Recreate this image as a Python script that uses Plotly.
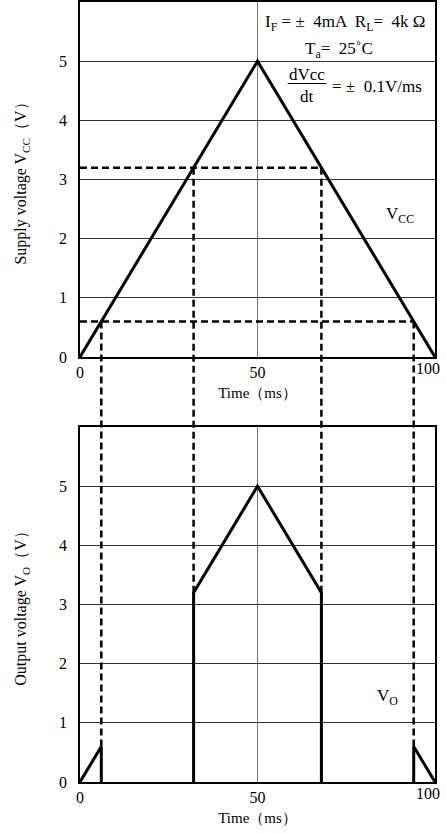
import plotly.graph_objects as go
from plotly.subplots import make_subplots

# ---- data ----
vcc_t = [0, 50, 100]
vcc_v = [0, 5, 0]
thr_high = 3.2
thr_low = 0.6
t_high = [32, 68]
t_low = [6, 94]
vo_t1 = [0, 6, 6]
vo_v1 = [0, 0.6, 0]
vo_t2 = [32, 32, 50, 68, 68]
vo_v2 = [0, 3.2, 5, 3.2, 0]
vo_t3 = [94, 94, 100]
vo_v3 = [0, 0.6, 0]
y_ticks = [0, 1, 2, 3, 4, 5]
x_ticks_main = [0, 50]
x_ticks_end = [100]
x_range = [0, 100]
y_range = [0, 6]

FONT = "Liberation Serif"
BLACK = "black"
DASH = "7px,4px"

top_dom = [0.5449, 1.0]
bot_dom = [0.0, 0.4551]

fig = make_subplots(rows=2, cols=1)

# top: Vcc triangle
fig.add_trace(go.Scatter(x=vcc_t, y=vcc_v, mode="lines",
                         line=dict(color=BLACK, width=3)), row=1, col=1)
# horizontal dashed thresholds in top plot
fig.add_trace(go.Scatter(x=[0, t_high[1]], y=[thr_high, thr_high], mode="lines",
                         line=dict(color=BLACK, width=2.5, dash=DASH)), row=1, col=1)
fig.add_trace(go.Scatter(x=[0, t_low[1]], y=[thr_low, thr_low], mode="lines",
                         line=dict(color=BLACK, width=2.5, dash=DASH)), row=1, col=1)

# bottom: Vo
for xs, ys in [(vo_t1, vo_v1), (vo_t2, vo_v2), (vo_t3, vo_v3)]:
    fig.add_trace(go.Scatter(x=xs, y=ys, mode="lines",
                             line=dict(color=BLACK, width=3)), row=2, col=1)

# invisible helper traces that register the overlay axes carrying the "100" label
fig.add_trace(go.Scatter(x=vcc_t, y=vcc_v, mode="lines", opacity=0,
                         hoverinfo="skip", xaxis="x3", yaxis="y"))
fig.add_trace(go.Scatter(x=vo_t2, y=vo_v2, mode="lines", opacity=0,
                         hoverinfo="skip", xaxis="x4", yaxis="y2"))


def to_paper_y(v, dom):
    return dom[0] + (v - y_range[0]) / (y_range[1] - y_range[0]) * (dom[1] - dom[0])


def to_paper_x(v):
    return (v - x_range[0]) / (x_range[1] - x_range[0])


shapes = []
for t in t_high:
    shapes.append(dict(type="line", xref="paper", yref="paper",
                       x0=to_paper_x(t), x1=to_paper_x(t),
                       y0=to_paper_y(thr_high, top_dom), y1=to_paper_y(thr_high, bot_dom),
                       line=dict(color=BLACK, width=2.5, dash=DASH), layer="above"))
for t in t_low:
    shapes.append(dict(type="line", xref="paper", yref="paper",
                       x0=to_paper_x(t), x1=to_paper_x(t),
                       y0=to_paper_y(thr_low, top_dom), y1=to_paper_y(thr_low, bot_dom),
                       line=dict(color=BLACK, width=2.5, dash=DASH), layer="above"))
# fraction bar of dVcc/dt
shapes.append(dict(type="line", xref="paper", yref="paper", x0=0.585, x1=0.694,
                   y0=0.8955, y1=0.8955, line=dict(color=BLACK, width=1)))
fig.update_layout(shapes=shapes)

tickfont = dict(family=FONT, size=16, color=BLACK)
axis_common = dict(showline=True, linecolor=BLACK, linewidth=1.5, mirror=True,
                   ticks="", tickfont=tickfont,
                   zeroline=False, automargin=False)

for r, dom in [(1, top_dom), (2, bot_dom)]:
    fig.update_xaxes(range=x_range, tickvals=x_ticks_main, showgrid=True,
                     gridcolor="#777777", gridwidth=1,
                     title=dict(text="Time（ms）", font=dict(family=FONT, size=15, color=BLACK),
                                standoff=8),
                     row=r, col=1, **axis_common)
    fig.update_yaxes(range=y_range, tickvals=y_ticks, showgrid=True, domain=dom,
                     gridcolor="#333333", gridwidth=1, ticklabelstandoff=8,
                     row=r, col=1, **axis_common)

# overlay axes carrying the right-end tick label, nudged inside the page
end_axis = dict(range=x_range, tickvals=x_ticks_end, showgrid=False, showline=False,
                zeroline=False, ticks="", tickfont=tickfont, ticklabelshift=-7,
                automargin=False, side="bottom", domain=[0, 1])
fig.update_layout(
    xaxis3=dict(overlaying="x", anchor="y", **end_axis),
    xaxis4=dict(overlaying="x2", anchor="y2", **end_axis),
)

fig.update_yaxes(title=dict(text="Supply voltage V<sub>CC</sub>（V）\u2002\u2002\u2002",
                            font=dict(family=FONT, size=16, color=BLACK), standoff=28),
                 row=1, col=1)
fig.update_yaxes(title=dict(text="Output voltage V<sub>O</sub>（V）\u2002\u2002\u2002",
                            font=dict(family=FONT, size=16, color=BLACK), standoff=28),
                 row=2, col=1)

ann_font = dict(family=FONT, size=17, color=BLACK)
annotations = [
    dict(text="I<sub>F</sub> = ±  4mA  R<sub>L</sub>=  4k Ω", x=0.746, y=0.973,
         xref="paper", yref="paper", showarrow=False, font=ann_font,
         xanchor="center", yanchor="middle"),
    dict(text="T<sub>a</sub>=  25˚C", x=0.73, y=0.938, xref="paper", yref="paper",
         showarrow=False, font=ann_font, xanchor="center", yanchor="middle"),
    dict(text="dVcc", x=0.639, y=0.907, xref="paper", yref="paper",
         showarrow=False, font=ann_font, xanchor="center", yanchor="middle"),
    dict(text="dt", x=0.639, y=0.879, xref="paper", yref="paper",
         showarrow=False, font=ann_font, xanchor="center", yanchor="middle"),
    dict(text="= ±  0.1V/ms", x=0.704, y=0.892, xref="paper", yref="paper",
         showarrow=False, font=ann_font, xanchor="left", yanchor="middle"),
    dict(text="V<sub>CC</sub>", x=90, y=2.4, xref="x", yref="y",
         showarrow=False, font=ann_font),
    dict(text="V<sub>O</sub>", x=86.5, y=1.44, xref="x2", yref="y2",
         showarrow=False, font=ann_font),
]
fig.update_layout(annotations=annotations)

fig.update_layout(width=446, height=833, margin=dict(l=80, r=11, t=2, b=51),
                  paper_bgcolor="white", plot_bgcolor="white", showlegend=False)

fig.write_html("out.html", config={"displayModeBar": False},
               post_script="document.body.style.margin='0';document.body.style.overflow='hidden';")
